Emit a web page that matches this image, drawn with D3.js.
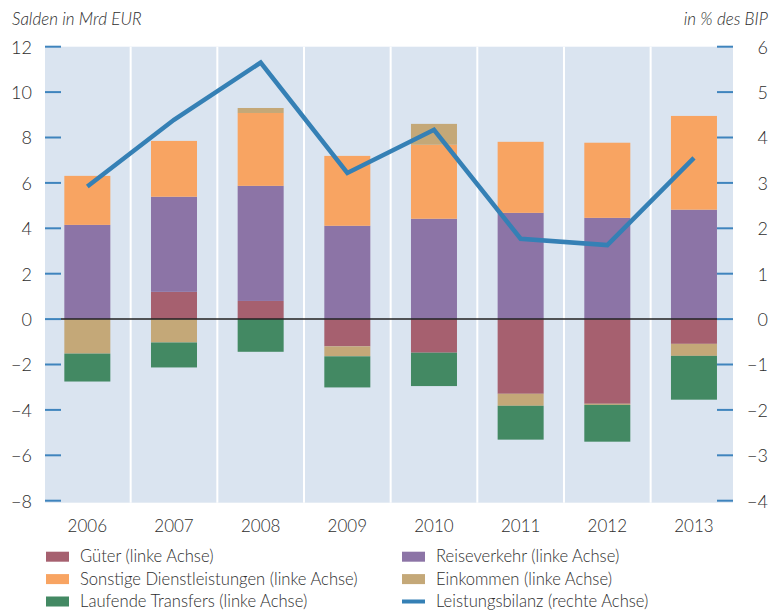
<!DOCTYPE html>
<html>
<head>
<meta charset="utf-8">
<script src="https://cdn.jsdelivr.net/npm/d3@7"></script>
<style>
  body { margin: 0; background: #fff; }
  text { font-family: Lato, "Open Sans", sans-serif; font-weight: 300; fill: #2e2e2e; }
</style>
</head>
<body>
<div class="chart"></div>
<script>
var years = ["2006", "2007", "2008", "2009", "2010", "2011", "2012", "2013"];

// Salden in Mrd EUR (linke Achse)
var gueter      = [0.0, 1.2, 0.8, -1.2, -1.48, -3.29, -3.73, -1.09];
var reise       = [4.15, 4.19, 5.07, 4.11, 4.42, 4.68, 4.46, 4.82];
var sonstige    = [2.16, 2.46, 3.21, 3.08, 3.26, 3.13, 3.31, 4.13];
var einkommen   = [-1.52, -1.03, 0.22, -0.44, 0.92, -0.53, -0.05, -0.53];
var transfers   = [-1.23, -1.10, -1.44, -1.37, -1.47, -1.49, -1.62, -1.93];
// in % des BIP (rechte Achse)
var bilanz      = [2.92, 4.39, 5.65, 3.22, 4.17, 1.77, 1.63, 3.55];

var leftTicks = [-8, -6, -4, -2, 0, 2, 4, 6, 8, 10, 12];
var rightTicks = [-4, -3, -2, -1, 0, 1, 2, 3, 4, 5, 6];

var series = [
    {name: "Güter (linke Achse)", values: gueter, color: "#a6606f"},
    {name: "Reiseverkehr (linke Achse)", values: reise, color: "#8c74a6"},
    {name: "Sonstige Dienstleistungen (linke Achse)", values: sonstige, color: "#f8a462"},
    {name: "Einkommen (linke Achse)", values: einkommen, color: "#c4a878"},
    {name: "Laufende Transfers (linke Achse)", values: transfers, color: "#438963"}
];

var width = 781, height = 611;
var plotLeft = 45, plotRight = 733, plotTop = 46.7, plotBottom = 502.7;

var svg = d3.select(".chart").append("svg")
    .attr("width", width)
    .attr("height", height);

var x = d3.scaleBand().domain(years).range([44, 737.3]);
var y = d3.scaleLinear().domain([-8, 12]).range([500.7, 46.7]);
var y2 = d3.scaleLinear().domain([-4, 6]).range([500.7, 46.7]);
var barW = 46;

// plot background
svg.append("rect")
    .attr("x", plotLeft).attr("y", plotTop)
    .attr("width", plotRight - plotLeft).attr("height", plotBottom - plotTop)
    .attr("fill", "#dae4f0");

// white separators between the years
svg.selectAll(".sep")
    .data(years.slice(1))
    .enter().append("line")
    .attr("x1", function (d) { return x(d); })
    .attr("x2", function (d) { return x(d); })
    .attr("y1", plotTop).attr("y2", plotBottom)
    .attr("stroke", "#fff").attr("stroke-width", 2);

// diverging stack
var rows = years.map(function (yr, i) {
    var r = {year: yr};
    series.forEach(function (s) { r[s.name] = s.values[i]; });
    return r;
});
var stack = d3.stack()
    .keys(series.map(function (s) { return s.name; }))
    .offset(d3.stackOffsetDiverging);
var stacked = stack(rows);

svg.selectAll(".layer")
    .data(stacked)
    .enter().append("g")
    .attr("fill", function (d, i) { return series[i].color; })
    .selectAll("rect")
    .data(function (d) { return d; })
    .enter().append("rect")
    .attr("x", function (d) { return x(d.data.year) + x.bandwidth() / 2 - barW / 2; })
    .attr("width", barW)
    .attr("y", function (d) { return y(Math.max(d[0], d[1])); })
    .attr("height", function (d) { return Math.abs(y(d[0]) - y(d[1])); });

// zero line
svg.append("line")
    .attr("x1", 61).attr("x2", 717)
    .attr("y1", y(0)).attr("y2", y(0))
    .attr("stroke", "#222").attr("stroke-width", 1.5);

// axes
var leftAxis = d3.axisLeft(y).tickValues(leftTicks).tickSize(0).tickPadding(13);
var gl = svg.append("g").attr("transform", "translate(" + plotLeft + ",0)").call(leftAxis);
gl.select(".domain").remove();
gl.selectAll("text").attr("font-size", 18).attr("dy", "0.35em");

var rightAxis = d3.axisRight(y2).tickValues(rightTicks).tickSize(0);
var gr = svg.append("g").attr("transform", "translate(" + plotRight + ",0)").call(rightAxis);
gr.select(".domain").remove();
gr.selectAll("text").attr("font-size", 18).attr("text-anchor", "end").attr("x", 35).attr("dy", "0.35em");

svg.selectAll(".ltick")
    .data(leftTicks)
    .enter().append("line")
    .attr("x1", plotLeft).attr("x2", plotLeft + 16)
    .attr("y1", function (d) { return y(d); }).attr("y2", function (d) { return y(d); })
    .attr("stroke", "#3f84bd").attr("stroke-width", 2);

svg.selectAll(".rtick")
    .data(rightTicks)
    .enter().append("line")
    .attr("x1", plotRight - 16).attr("x2", plotRight)
    .attr("y1", function (d) { return y2(d); }).attr("y2", function (d) { return y2(d); })
    .attr("stroke", "#3f84bd").attr("stroke-width", 2);

var xAxis = d3.axisBottom(x).tickSize(0).tickPadding(0);
var gx = svg.append("g").attr("transform", "translate(0," + 520 + ")").call(xAxis);
gx.select(".domain").remove();
gx.selectAll("text").attr("font-size", 17).attr("dy", "0.71em");

// Leistungsbilanz line
var line = d3.line()
    .x(function (d, i) { return x(years[i]) + x.bandwidth() / 2; })
    .y(function (d) { return y2(d); });

svg.append("path")
    .datum(bilanz)
    .attr("d", line)
    .attr("fill", "none")
    .attr("stroke", "#3580b5")
    .attr("stroke-width", 4.5)
    .attr("stroke-linejoin", "miter");

// axis titles
svg.append("text").attr("x", 12).attr("y", 25)
    .attr("font-size", 17).attr("font-style", "italic")
    .text("Salden in Mrd EUR");
svg.append("text").attr("x", 768).attr("y", 25)
    .attr("font-size", 17).attr("font-style", "italic").attr("text-anchor", "end")
    .text("in % des BIP");

// legend
var legendItems = [
    {name: series[0].name, color: series[0].color, col: 0, row: 0},
    {name: series[2].name, color: series[2].color, col: 0, row: 1},
    {name: series[4].name, color: series[4].color, col: 0, row: 2},
    {name: series[1].name, color: series[1].color, col: 1, row: 0},
    {name: series[3].name, color: series[3].color, col: 1, row: 1},
    {name: "Leistungsbilanz (rechte Achse)", color: "#3580b5", col: 1, row: 2, isLine: true}
];

var lg = svg.selectAll(".leg")
    .data(legendItems)
    .enter().append("g")
    .attr("transform", function (d) {
        return "translate(" + (d.col === 0 ? 46 : 402) + "," + (556.7 + d.row * 22.4) + ")";
    });

lg.append("rect")
    .attr("x", 0).attr("width", 23)
    .attr("y", function (d) { return d.isLine ? -2 : -5; })
    .attr("height", function (d) { return d.isLine ? 4 : 10; })
    .attr("fill", function (d) { return d.color; });

lg.append("text")
    .attr("x", 34)
    .attr("y", 5.5)
    .attr("font-size", 16.6)
    .text(function (d) { return d.name; });
</script>
</body>
</html>
